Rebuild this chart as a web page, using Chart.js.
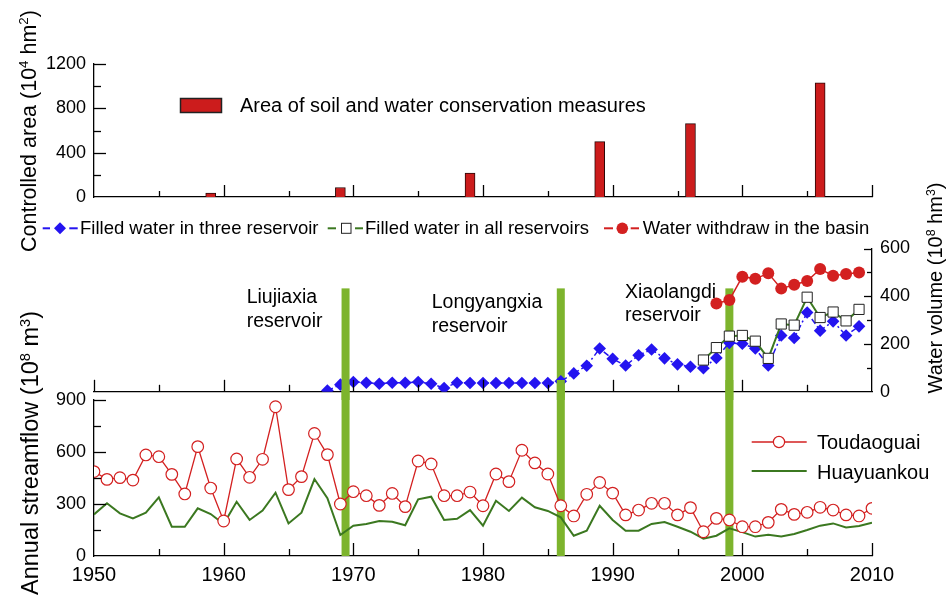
<!DOCTYPE html>
<html><head><meta charset="utf-8">
<script src="https://cdn.jsdelivr.net/npm/chart.js@4"></script>
<style>
body{margin:0;background:#fff;}
#wrap{position:relative;width:948px;height:602px;overflow:hidden;background:#fff;font-family:'Liberation Sans',Arial,Helvetica,sans-serif;color:#000;}
canvas{position:absolute;left:0;}
.t{position:absolute;white-space:nowrap;}
.rot{position:absolute;white-space:nowrap;line-height:1;transform:translate(-50%,-50%) rotate(-90deg);}
sup{font-size:0.62em;vertical-align:0.6em;line-height:0}
svg{position:absolute;left:0;top:0;pointer-events:none;}
</style></head><body><div id="wrap">
<canvas id="cTop" width="948" height="215" style="top:0"></canvas>
<canvas id="cMid" width="948" height="185" style="top:215px"></canvas>
<canvas id="cBot" width="948" height="222" style="top:380px"></canvas>

<svg width="948" height="602">
  <rect x="180.5" y="98.5" width="41" height="14" fill="#cc1c1c" stroke="#222" stroke-width="1.5"/>
  <line x1="42.7" y1="228.3" x2="50" y2="228.3" stroke="#2414f0" stroke-width="2"/>
  <path d="M60 222.3 L66 228.3 L60 234.3 L54 228.3 Z" fill="#2414f0"/>
  <line x1="69.3" y1="228.3" x2="77.7" y2="228.3" stroke="#2414f0" stroke-width="2"/>
  <line x1="327.7" y1="228.3" x2="336" y2="228.3" stroke="#3b7820" stroke-width="2"/>
  <rect x="341.5" y="223.3" width="9.5" height="10" fill="#fff" stroke="#222" stroke-width="1"/>
  <line x1="355" y1="228.3" x2="363" y2="228.3" stroke="#3b7820" stroke-width="2"/>
  <line x1="604" y1="228.3" x2="613" y2="228.3" stroke="#d32020" stroke-width="2"/>
  <circle cx="622.3" cy="228.3" r="5.8" fill="#d32020"/>
  <line x1="630.7" y1="228.3" x2="639" y2="228.3" stroke="#d32020" stroke-width="2"/>
  <line x1="751.7" y1="442" x2="806.7" y2="442" stroke="#d32020" stroke-width="1.3"/>
  <circle cx="779" cy="442" r="5.6" fill="#fff" stroke="#d32020" stroke-width="1.2"/>
  <line x1="751.7" y1="471" x2="806.7" y2="471" stroke="#3b7820" stroke-width="2"/>
</svg>

<div class="t" style="left:240px;top:95px;font-size:20px;line-height:20px;">Area of soil and water conservation measures</div>
<div class="t" style="left:80px;top:219px;font-size:18.5px;line-height:18.5px;">Filled water in three reservoir</div>
<div class="t" style="left:365px;top:219px;font-size:18.5px;line-height:18.5px;">Filled water in all reservoirs</div>
<div class="t" style="left:642.7px;top:219px;font-size:18.5px;line-height:18.5px;">Water withdraw in the basin</div>

<div class="t" style="left:246.7px;top:285px;font-size:19.5px;line-height:23.5px;">Liujiaxia<br>reservoir</div>
<div class="t" style="left:431.7px;top:290.3px;font-size:19.5px;line-height:23.5px;">Longyangxia<br>reservoir</div>
<div class="t" style="left:625px;top:279.5px;font-size:19.5px;line-height:23.5px;">Xiaolangdi<br>reservoir</div>

<div class="t" style="left:817px;top:432px;font-size:20px;line-height:20px;">Toudaoguai</div>
<div class="t" style="left:817px;top:462px;font-size:20px;line-height:20px;">Huayuankou</div>

<div class="rot" style="left:30px;top:131px;font-size:21.5px;">Controlled area (10<sup>4</sup> hm<sup>2</sup>)</div>
<div class="rot" style="left:31px;top:453px;font-size:23.5px;">Annual streamflow (10<sup>8</sup> m<sup>3</sup>)</div>
<div class="rot" style="left:935px;top:288px;font-size:20px;">Water volume (10<sup>8</sup> hm<sup>3</sup>)</div>
</div>
<script>
// ---------------- data ----------------
const areaYears = [1959, 1969, 1979, 1989, 1996, 2006];
const areaValues = [36, 86, 216, 500, 662, 1029];

const threeResYears = [1968,1969,1970,1971,1972,1973,1974,1975,1976,1977,1978,1979,1980,1981,1982,1983,1984,1985,1986,1987,1988,1989,1990,1991,1992,1993,1994,1995,1996,1997,1998,1999,2000,2001,2002,2003,2004,2005,2006,2007,2008,2009];
const threeResValues = [5,30,41,38,34,38,38,41,34,16,38,37,37,37,37,37,37,37,44,77,109,181,138,110,153,177,140,115,105,99,142,205,201,181,110,236,225,332,256,295,236,274];

const allResYears = [1997,1998,1999,2000,2001,2002,2003,2004,2005,2006,2007,2008,2009];
const allResValues = [133,185,233,236,212,140,284,279,396,311,334,297,345];

const withdrawYears = [1998,1999,2000,2001,2002,2003,2004,2005,2006,2007,2008,2009];
const withdrawValues = [370,384,482,473,496,432,448,464,514,486,493,500];

const flowYears = [1950,1951,1952,1953,1954,1955,1956,1957,1958,1959,1960,1961,1962,1963,1964,1965,1966,1967,1968,1969,1970,1971,1972,1973,1974,1975,1976,1977,1978,1979,1980,1981,1982,1983,1984,1985,1986,1987,1988,1989,1990,1991,1992,1993,1994,1995,1996,1997,1998,1999,2000,2001,2002,2003,2004,2005,2006,2007,2008,2009,2010];
const toudaoguai = [487,442,452,438,583,573,471,358,631,392,202,560,454,558,861,383,458,707,585,300,371,348,292,361,285,548,531,348,348,369,290,473,429,610,537,473,290,231,356,424,363,237,265,304,304,237,279,140,217,208,169,169,194,269,240,252,281,265,237,231,275];
const huayuankou = [240,304,246,217,250,338,169,169,275,242,185,313,208,262,365,188,250,444,333,121,175,185,202,198,177,327,342,208,215,265,175,319,260,337,281,260,223,117,146,290,208,146,146,185,196,169,140,100,117,160,138,112,123,113,127,150,175,188,165,173,192];

const reservoirYears = [1969.4, 1986, 1999];

const xTickLabels = ['1950','1960','1970','1980','1990','2000','2010'];

// ---------------- styles / helpers ----------------
const RED = '#d32020', BLUE = '#2414f0', DKGREEN = '#3b7820', BARGREEN = '#7db42d', BARRED = '#cc1c1c';
Chart.defaults.font.family = "'Liberation Sans', Arial, Helvetica, sans-serif";
Chart.defaults.color = '#000';

const pts = (xs, ys) => xs.map((x, i) => ({x: x, y: ys[i]}));

const innerTicks = {
  id: 'innerTicks',
  afterDraw(chart, args, opts) {
    const ctx = chart.ctx, ca = chart.chartArea;
    ctx.save();
    ctx.strokeStyle = '#000';
    ctx.lineWidth = 1.3;
    (opts.list || []).forEach(t => {
      const sc = chart.scales[t.scale];
      for (let v = t.from; v <= t.to + 1e-9; v += t.step) {
        const len = Math.abs(((v % t.major) + t.major) % t.major) < 1e-9 ? t.majorLen : t.minorLen;
        const p = Math.round(sc.getPixelForValue(v)) + 0.5;
        ctx.beginPath();
        if (t.side === 'bottom') { ctx.moveTo(p, ca.bottom); ctx.lineTo(p, ca.bottom - len); }
        else if (t.side === 'left') { ctx.moveTo(ca.left, p); ctx.lineTo(ca.left + len, p); }
        else { ctx.moveTo(ca.right, p); ctx.lineTo(ca.right - len, p); }
        ctx.stroke();
      }
    });
    ctx.restore();
  }
};

const resBars = {
  id: 'resBars',
  beforeDatasetsDraw(chart, args, o) {
    if (!o.years) return;
    const xs = chart.scales.x, ca = chart.chartArea, ctx = chart.ctx;
    const top = (o.topValue != null) ? chart.scales.y.getPixelForValue(o.topValue) : 0;
    const bottom = o.toCanvasBottom ? chart.height : ca.bottom;
    ctx.save();
    ctx.fillStyle = o.color;
    o.years.forEach(yr => {
      const p = xs.getPixelForValue(yr);
      ctx.fillRect(p - o.width / 2, top, o.width, bottom - top);
    });
    ctx.restore();
  }
};

const border = {display: true, color: '#000', width: 1.3};
const noGrid = {display: false, drawTicks: false, tickLength: 0};
const common = {
  responsive: false, animation: false, devicePixelRatio: 1,
  events: [],
};

// ---------------- top: controlled area ----------------
new Chart(document.getElementById('cTop'), {
  type: 'bar',
  data: { datasets: [{
    label: 'Area of soil and water conservation measures',
    data: pts(areaYears, areaValues),
    backgroundColor: BARRED, borderColor: '#2a0808', borderWidth: 1,
    barThickness: 10
  }]},
  options: Object.assign({}, common, {
    layout: {padding: {left: 0, right: 76, top: 64, bottom: 0}},
    plugins: {
      legend: {display: false}, tooltip: {enabled: false},
      innerTicks: {list: [
        {scale: 'x', side: 'bottom', from: 1955, to: 2010, step: 5, major: 10, majorLen: 12, minorLen: 6},
        {scale: 'y', side: 'left', from: 200, to: 1200, step: 200, major: 400, majorLen: 12, minorLen: 7}
      ]}
    },
    scales: {
      x: {type: 'linear', min: 1950, max: 2010, offset: false,
          ticks: {display: false}, grid: noGrid, border: border,
          afterFit(s) { s.height = 18; s.paddingLeft = 0; s.paddingRight = 0; }},
      y: {type: 'linear', min: 0, max: 1200,
          ticks: {stepSize: 200, padding: 8, color: '#000', font: {size: 18},
                  callback: v => (v % 400 === 0 ? String(v) : '')},
          grid: noGrid, border: border,
          afterFit(s) { s.width = 94; s.paddingTop = 0; s.paddingBottom = 0; }}
    }
  }),
  plugins: [innerTicks]
});

// ---------------- middle: water volume ----------------
new Chart(document.getElementById('cMid'), {
  type: 'line',
  data: { datasets: [
    { label: 'Filled water in all reservoirs', data: pts(allResYears, allResValues),
      borderColor: DKGREEN, borderWidth: 2, pointStyle: 'rect', pointRadius: 7.2,
      pointBackgroundColor: '#fff', pointBorderColor: '#222', pointBorderWidth: 1, tension: 0 },
    { label: 'Filled water in three reservoir', data: pts(threeResYears, threeResValues),
      borderColor: BLUE, borderWidth: 1.5, borderDash: [6, 3, 2, 3], pointStyle: 'rectRot', pointRadius: 6.3,
      pointBackgroundColor: BLUE, pointBorderColor: BLUE, pointBorderWidth: 0, tension: 0 },
    { label: 'Water withdraw in the basin', data: pts(withdrawYears, withdrawValues),
      borderColor: RED, borderWidth: 1.5, pointStyle: 'circle', pointRadius: 6,
      pointBackgroundColor: RED, pointBorderColor: RED, pointBorderWidth: 0, tension: 0 }
  ]},
  options: Object.assign({}, common, {
    layout: {padding: {left: 94, right: 0, top: 33.5, bottom: 0}},
    plugins: {
      legend: {display: false}, tooltip: {enabled: false},
      resBars: {years: reservoirYears, topValue: 433, toCanvasBottom: true, color: BARGREEN, width: 8},
      innerTicks: {list: [
        {scale: 'x', side: 'bottom', from: 1950, to: 2005, step: 5, major: 10, majorLen: 12, minorLen: 7},
        {scale: 'y', side: 'right', from: 100, to: 600, step: 100, major: 200, majorLen: 8, minorLen: 5}
      ]}
    },
    scales: {
      x: {type: 'linear', min: 1950, max: 2010,
          ticks: {display: false}, grid: noGrid, border: border,
          afterFit(s) { s.height = 6; s.paddingLeft = 0; s.paddingRight = 0; }},
      y: {type: 'linear', position: 'right', min: 0, max: 600,
          ticks: {stepSize: 100, padding: 8, color: '#000', font: {size: 18},
                  callback: v => (v % 200 === 0 ? String(v) : '')},
          grid: noGrid, border: border,
          afterFit(s) { s.width = 76; s.paddingTop = 0; s.paddingBottom = 0; }}
    }
  }),
  plugins: [resBars, innerTicks]
});

// ---------------- bottom: annual streamflow ----------------
new Chart(document.getElementById('cBot'), {
  type: 'line',
  data: { datasets: [
    { label: 'Toudaoguai', data: pts(flowYears, toudaoguai),
      borderColor: RED, borderWidth: 1.3, pointStyle: 'circle', pointRadius: 5.8,
      pointBackgroundColor: '#fff', pointBorderColor: RED, pointBorderWidth: 1.2, tension: 0, clip: 0 },
    { label: 'Huayuankou', data: pts(flowYears, huayuankou),
      borderColor: DKGREEN, borderWidth: 2, pointRadius: 0, tension: 0 }
  ]},
  options: Object.assign({}, common, {
    layout: {padding: {left: 0, right: 76, top: 20, bottom: 0}},
    plugins: {
      legend: {display: false}, tooltip: {enabled: false},
      resBars: {years: reservoirYears, topValue: null, toCanvasBottom: false, color: BARGREEN, width: 8},
      innerTicks: {list: [
        {scale: 'x', side: 'bottom', from: 1955, to: 2010, step: 5, major: 10, majorLen: 13, minorLen: 7},
        {scale: 'y', side: 'left', from: 150, to: 900, step: 150, major: 300, majorLen: 12, minorLen: 7}
      ]}
    },
    scales: {
      x: {type: 'linear', min: 1950, max: 2010,
          ticks: {stepSize: 10, padding: 7, color: '#000', font: {size: 20},
                  callback: v => { const s = String(v); return xTickLabels.includes(s) ? s : ''; }},
          grid: noGrid, border: border,
          afterFit(s) { s.height = 46; s.paddingLeft = 0; s.paddingRight = 0; }},
      y: {type: 'linear', min: 0, max: 900,
          ticks: {stepSize: 150, padding: 8, color: '#000', font: {size: 18},
                  callback: v => (v % 300 === 0 ? String(v) : '')},
          grid: noGrid, border: border,
          afterFit(s) { s.width = 94; s.paddingTop = 0; s.paddingBottom = 0; }}
    }
  }),
  plugins: [resBars, innerTicks]
});
</script>
</body></html>
